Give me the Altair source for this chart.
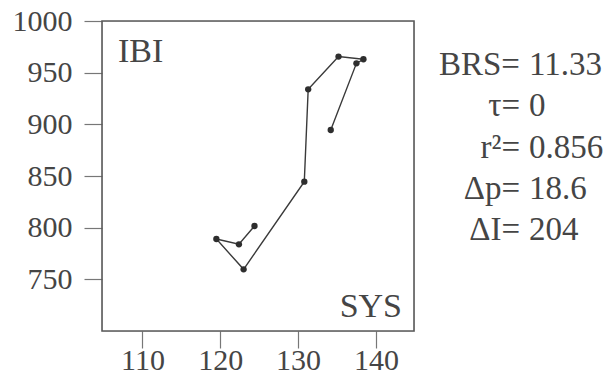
import altair as alt
import pandas as pd

# data (path order)
sys_vals = [124.4, 122.4, 119.5, 123.0, 130.8, 131.3, 135.2, 138.4, 137.5, 134.2]
ibi_vals = [801.6, 783.9, 789.0, 759.7, 844.5, 933.9, 965.6, 963.0, 959.0, 894.5]
order_vals = list(range(len(sys_vals)))

x_ticks = [110, 120, 130, 140]
y_ticks = [750, 800, 850, 900, 950, 1000]

stat_labels = ["BRS=", "τ=", "r²=", "Δp=", "ΔI="]
stat_values = ["11.33", "0", "0.856", "18.6", "204"]

FONT = "Liberation Serif"
TXT = "#454545"

df = pd.DataFrame({"SYS": sys_vals, "IBI": ibi_vals, "ord": order_vals})
stats = pd.DataFrame({"lab": stat_labels, "val": stat_values, "row": list(range(len(stat_labels)))})

xs = alt.Scale(domain=[104.8, 144.9], nice=False, zero=False)
ys = alt.Scale(domain=[700, 1000], nice=False, zero=False)

xax = alt.Axis(values=x_ticks, title=None, domain=False, grid=False, tickSize=17,
               tickColor="#777", tickWidth=1.2, labelFont=FONT, labelFontSize=30,
               labelColor=TXT, labelPadding=21, labelBaseline="alphabetic",
               labelFlush=False, format="d")
yax = alt.Axis(values=y_ticks, title=None, domain=False, grid=False, tickSize=18,
               tickColor="#777", tickWidth=1.2, labelFont=FONT, labelFontSize=30,
               labelColor=TXT, labelPadding=12, labelFlush=False, format="d")

base = alt.Chart(df)
line = base.mark_line(color="#3a3a3a", strokeWidth=1.4).encode(
    x=alt.X("SYS:Q", scale=xs, axis=xax),
    y=alt.Y("IBI:Q", scale=ys, axis=yax),
    order="ord:Q",
)
pts = base.mark_circle(color="#2e2e2e", opacity=1, size=40).encode(
    x=alt.X("SYS:Q", scale=xs), y=alt.Y("IBI:Q", scale=ys)
)

frame = alt.Chart(pd.DataFrame({"k": [0]})).mark_rect(
    fill=None, stroke="#5a5a5a", strokeWidth=1.6
).encode(x=alt.value(0), x2=alt.value(312), y=alt.value(0), y2=alt.value(310))

ibi_txt = alt.Chart(pd.DataFrame({"t": ["IBI"]})).mark_text(
    font=FONT, fontSize=34, color=TXT, align="left", baseline="alphabetic"
).encode(x=alt.value(16), y=alt.value(41), text="t:N")
sys_txt = alt.Chart(pd.DataFrame({"t": ["SYS"]})).mark_text(
    font=FONT, fontSize=34, color=TXT, align="right", baseline="alphabetic"
).encode(x=alt.value(300), y=alt.value(296), text="t:N")

rows = alt.Scale(domain=[0, 4], range=[54, 219])
lab_txt = alt.Chart(stats).mark_text(
    font=FONT, fontSize=33, color=TXT, align="right", baseline="alphabetic"
).encode(x=alt.value(418), y=alt.Y("row:Q", scale=rows, axis=None), text="lab:N")
val_txt = alt.Chart(stats).mark_text(
    font=FONT, fontSize=33, color=TXT, align="left", baseline="alphabetic"
).encode(x=alt.value(427), y=alt.Y("row:Q", scale=rows, axis=None), text="val:N")

main = alt.layer(line, pts, frame, ibi_txt, sys_txt)
chart = alt.layer(main, lab_txt, val_txt).resolve_scale(y="independent").properties(
    width=312, height=310,
    autosize=alt.AutoSizeParams(type="none"),
    padding={"left": 94, "top": 13, "right": 191, "bottom": 45},
).configure_view(stroke=None).configure(background="white")

chart.save("out.html", embed_options={"renderer": "svg", "actions": False})
